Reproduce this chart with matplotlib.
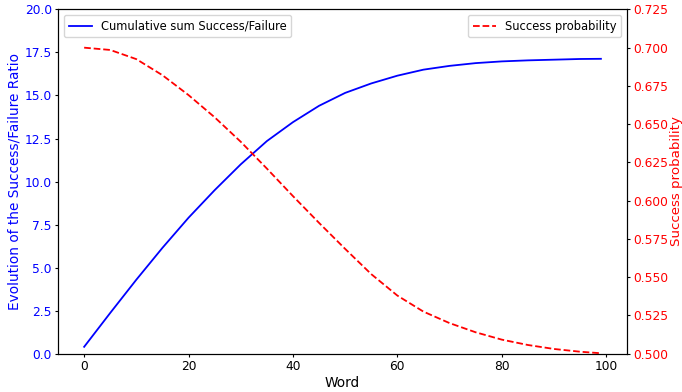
import matplotlib
matplotlib.use("Agg")
import matplotlib.pyplot as plt

# word index where the values were sampled
words = [0, 5, 10, 15, 20, 25, 30, 35, 40, 45, 50,
         55, 60, 65, 70, 75, 80, 85, 90, 95, 99]

# cumulative sum success/failure
ratio = [0.40, 2.37, 4.30, 6.15, 7.90, 9.50, 11.00, 12.35, 13.45, 14.40, 15.15,
         15.70, 16.15, 16.50, 16.72, 16.88, 16.98, 17.04, 17.08, 17.12, 17.13]

# success probability per word
prob = [0.7000, 0.6985, 0.6925, 0.6820, 0.6690, 0.6545, 0.6385, 0.6210, 0.6030, 0.5855, 0.5685,
        0.5520, 0.5380, 0.5275, 0.5200, 0.5140, 0.5092, 0.5057, 0.5031, 0.5013, 0.5003]

fig, ax1 = plt.subplots(figsize=(6.82, 3.92), dpi=100)
fig.subplots_adjust(left=0.0855, right=0.919, bottom=0.0977, top=0.976)

ax1.plot(words, ratio, color='blue', lw=1.3, label='Cumulative sum Success/Failure')
ax1.set_xlabel('Word', fontsize=9.8, labelpad=2)
ax1.set_ylabel('Evolution of the Success/Failure Ratio', color='blue', fontsize=9.8, labelpad=2.5)
ax1.tick_params(axis='y', labelcolor='blue', labelsize=8.8, length=2.5, pad=2.2)
ax1.tick_params(axis='x', labelsize=8.8, length=2.5, pad=2.2)
ax1.set_ylim(0, 20)
ax1.legend(loc='upper left', fontsize=8.3)

ax2 = ax1.twinx()
ax2.plot(words, prob, color='red', linestyle='--', lw=1.3, label='Success probability')
ax2.set_ylabel('Success probability', color='red', fontsize=9.6, labelpad=1)
ax2.tick_params(axis='y', labelcolor='red', labelsize=8.8, length=2.5, pad=2.2)
ax2.set_ylim(0.5, 0.725)
ax2.legend(loc='upper right', fontsize=8.3)

fig.savefig('out.png', dpi=100)
